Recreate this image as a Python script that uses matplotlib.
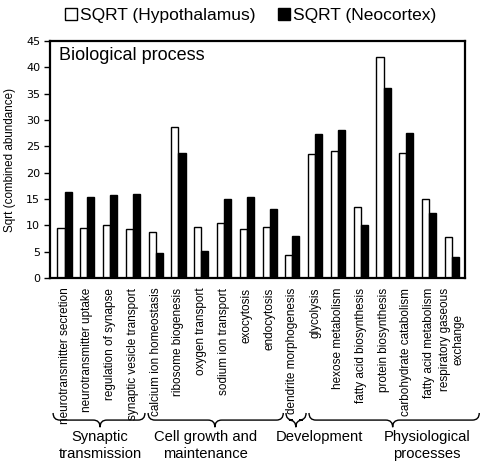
import matplotlib
matplotlib.use("Agg")
import matplotlib.pyplot as plt
from matplotlib.path import Path
from matplotlib.patches import PathPatch, Patch
import matplotlib.transforms as mtransforms
import numpy as np

plt.rcParams['font.family'] = ['Liberation Sans', 'DejaVu Sans']

categories = ["neurotransmitter secretion", "neurotransmitter uptake", "regulation of synapse",
              "synaptic vesicle transport", "calcium ion homeostasis", "ribosome biogenesis",
              "oxygen transport", "sodium ion transport", "exocytosis", "endocytosis",
              "dendrite morphogenesis", "glycolysis", "hexose metabolism", "fatty acid biosynthesis",
              "protein biosynthesis", "carbohydrate catabolism", "fatty acid metabolism",
              "respiratory gaseous\nexchange"]
hypothalamus = [9.5, 9.5, 10.0, 9.3, 8.8, 28.7, 9.7, 10.4, 9.3, 9.7, 4.4, 23.5, 24.1, 13.5, 42.0, 23.8, 15.1, 7.8]
neocortex = [16.3, 15.3, 15.8, 16.0, 4.8, 23.8, 5.1, 15.1, 15.4, 13.2, 7.9, 27.3, 28.1, 10.1, 36.1, 27.5, 12.3, 3.9]
yticks = [0, 5, 10, 15, 20, 25, 30, 35, 40, 45]
groups = ["Synaptic\ntransmission", "Cell growth and\nmaintenance", "Development", "Physiological\nprocesses"]
group_span = [(-0.5, 3.53), (3.67, 9.6), (9.72, 10.6), (10.73, 18.2)]
group_tip = [1.56, 6.6, 10.15, 14.4]
group_label_x = [1.56, 6.17, 11.2, 15.9]

fig = plt.figure(figsize=(4.8, 4.68), dpi=100)
ax = fig.add_axes([0.104, 0.406, 0.865, 0.506])

x = np.arange(len(categories))
w = 0.31
ax.bar(x - w / 2, hypothalamus, width=w, color='white', edgecolor='black', linewidth=1.0)
ax.bar(x + w / 2, neocortex, width=w, color='black', edgecolor='black', linewidth=1.0)

ax.set_xlim(-0.64, len(categories) - 1 + 0.58)
ax.set_ylim(0, 45)
ax.set_yticks(yticks)
ax.set_yticklabels([str(t) for t in yticks], fontsize=8, family=['DejaVu Sans'])
ax.tick_params(axis='y', direction='out', length=4, width=1, pad=3)
ax.set_xticks(x)
ax.set_xticklabels(categories, rotation=90, fontsize=8.5, ha='center', va='top', multialignment='center')
ax.tick_params(axis='x', length=0, pad=7)
for s in ax.spines.values():
    s.set_linewidth(1.6)

ax.set_ylabel("Sqrt (combined abundance)", fontsize=8.4, labelpad=7)
ax.text(0.022, 0.975, "Biological process", transform=ax.transAxes, fontsize=13, va='top', ha='left')

# legend
handles = [Patch(facecolor='white', edgecolor='black', linewidth=1.0),
           Patch(facecolor='black', edgecolor='black', linewidth=1.0)]
fig.legend(handles, ["SQRT (Hypothalamus)", "SQRT (Neocortex)"], loc='center',
           bbox_to_anchor=(0.522, 0.966), ncol=2, frameon=False, fontsize=12.5,
           handlelength=0.7, handleheight=0.7, handletextpad=0.15, columnspacing=1.3)

# braces
trans = mtransforms.blended_transform_factory(ax.transData, ax.transAxes)
y_top, y_mid, y_tip = -0.57, -0.60, -0.63
r = 0.3
for (x0, x1), xm, lx, lab in zip(group_span, group_tip, group_label_x, groups):
    verts = [(x0, y_top), (x0, y_mid), (x0 + r, y_mid),
             (xm - r, y_mid),
             (xm, y_mid), (xm, y_tip),
             (xm, y_mid), (xm + r, y_mid),
             (x1 - r, y_mid),
             (x1, y_mid), (x1, y_top)]
    codes = [Path.MOVETO, Path.CURVE3, Path.CURVE3,
             Path.LINETO,
             Path.CURVE3, Path.CURVE3,
             Path.CURVE3, Path.CURVE3,
             Path.LINETO,
             Path.CURVE3, Path.CURVE3]
    p = PathPatch(Path(verts, codes), transform=trans, fill=False, edgecolor='black',
                  linewidth=1.0, clip_on=False)
    ax.add_patch(p)
    ax.text(lx, y_tip - 0.012, lab, transform=trans, ha='center', va='top', fontsize=10.6,
            linespacing=1.3)

fig.savefig("out.png", dpi=100)
